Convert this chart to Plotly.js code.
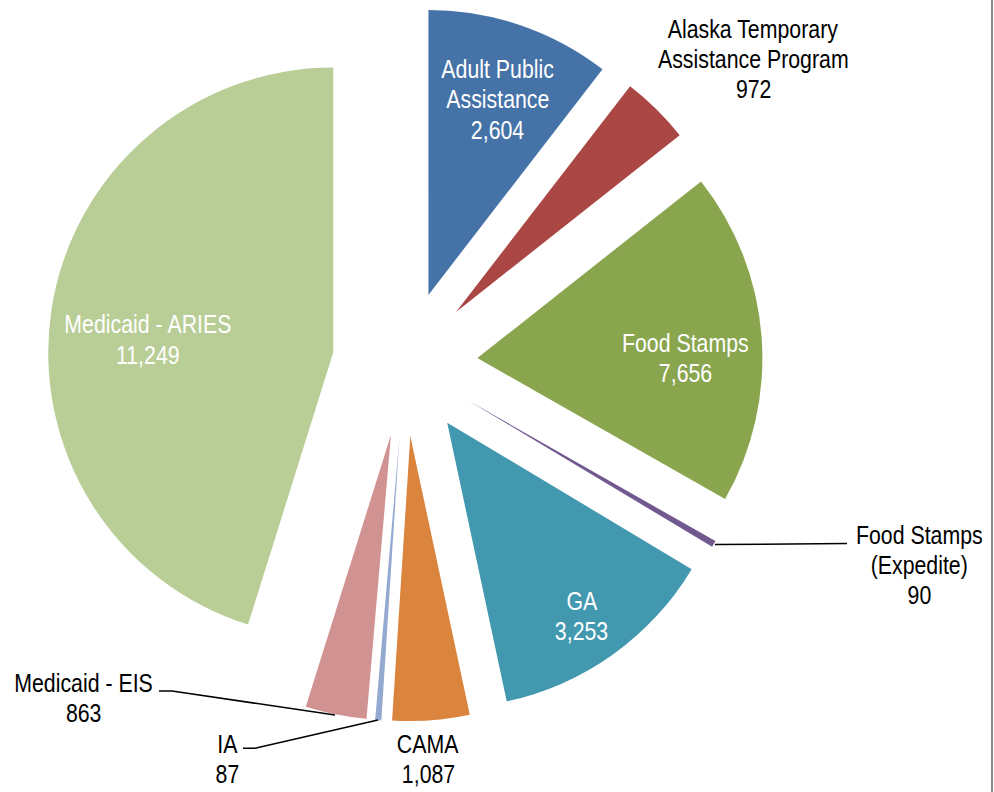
<!DOCTYPE html>
<html>
<head>
<meta charset="utf-8">
<script src="https://cdn.plot.ly/plotly-3.0.1.min.js"></script>
<style>html,body{margin:0;padding:0;background:#fff;}#chart{width:994px;height:792px;}</style>
</head>
<body>
<div id="chart"></div>
<script>
// ---- data ----
const categories = ['Adult Public Assistance', 'Alaska Temporary Assistance Program', 'Food Stamps',
  'Food Stamps (Expedite)', 'GA', 'CAMA', 'IA', 'Medicaid - EIS', 'Medicaid - ARIES'];
// numbers printed on the labels
const labelValues = [2604, 972, 7656, 90, 3253, 1087, 87, 863, 11249];
// slice sizes as drawn in the picture (the Food Stamps wedge is drawn smaller than its label)
const sliceValues = [2604, 972, 4700, 90, 3253, 1087, 87, 863, 11249];
const labelLines = [['Adult Public', 'Assistance'], ['Alaska Temporary', 'Assistance Program'], ['Food Stamps'],
  ['Food Stamps', '(Expedite)'], ['GA'], ['CAMA'], ['IA'], ['Medicaid - EIS'], ['Medicaid - ARIES']];

// ---- style / layout ----
const W = 994, H = 792;
const colors = ['#4572A7', '#AA4643', '#89A54E', '#71588F', '#4198AF', '#DB843D', '#93A9CF', '#D19392', '#B9CD96'];
const inside = [true, false, true, false, true, false, false, false, true];
// label block: center x (px), first line center y (px), line step (px)
const labelPos = [
  [497.5, 68.7, 30.7], [753, 29.3, 29.8], [685, 342.5, 30.7], [919, 534.7, 30],
  [581.5, 601.2, 30], [428, 743.8, 29.9], [227, 743.8, 29.9], [83.5, 682.8, 30.5], [147.5, 324.2, 30.3]
];
const FONT = '"Liberation Sans", Arial, sans-serif';
const NARROW = 0.82;   // horizontal condensing to imitate a narrow face
const px = x => x / W, py = y => 1 - y / H;
const fmt = v => v.toLocaleString('en-US');

const annotations = [];
categories.forEach((c, i) => {
  const lines = labelLines[i].concat([fmt(labelValues[i])]);
  const [cx, y0, step] = labelPos[i];
  lines.forEach((t, k) => {
    annotations.push({
      xref: 'paper', yref: 'paper', x: px(cx), y: py(y0 + k * step),
      xanchor: 'center', yanchor: 'middle', showarrow: false, text: t,
      font: {family: FONT, size: 26, color: inside[i] ? '#ffffff' : '#000000'}
    });
  });
});

const pathOf = pts => pts.map((p, k) => (k ? 'L' : 'M') + px(p[0]) + ',' + py(p[1])).join(' ');
const leader = pts => ({type: 'path', xref: 'paper', yref: 'paper', path: pathOf(pts),
  line: {color: '#000000', width: 1.5}});
const shapes = [
  leader([[715, 544.5], [847, 543.5]]),
  leader([[159, 691], [172, 691], [335, 715]]),
  leader([[243, 748.3], [255, 748.3], [378, 720]]),
  {type: 'line', xref: 'paper', yref: 'paper', x0: px(992), x1: px(992), y0: 0, y1: 1,
   line: {color: '#878787', width: 2}}
];

const R = 285, CX = 405, CY = 363.6, PULL = 0.2547;
const half = R * (1 + PULL);

const trace = {
  type: 'pie', labels: categories, values: sliceValues, sort: false, direction: 'clockwise', rotation: 0,
  pull: categories.map(() => PULL), marker: {colors: colors, line: {width: 0}},
  textinfo: 'none', showlegend: false, hovertext: labelValues.map(fmt), hoverinfo: 'label+text',
  domain: {x: [px(CX - half), px(CX + half)], y: [py(CY + half), py(CY - half)]}
};

Plotly.newPlot('chart', [trace], {
  width: W, height: H, margin: {l: 0, r: 0, t: 0, b: 0},
  paper_bgcolor: '#ffffff', plot_bgcolor: '#ffffff', showlegend: false,
  annotations: annotations, shapes: shapes
}, {displayModeBar: false, staticPlot: true}).then(gd => {
  gd.querySelectorAll('text.annotation-text').forEach(el => {
    const b = el.getBBox();
    const c = b.x + b.width / 2;
    el.setAttribute('transform', `translate(${c},0) scale(${NARROW},1) translate(${-c},0)`);
  });
});
</script>
</body>
</html>
